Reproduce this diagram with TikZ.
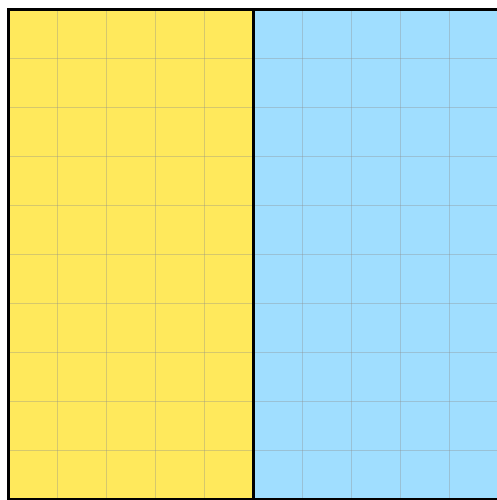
\documentclass[tikz,border=0pt]{standalone}
\begin{document}
\begin{tikzpicture}[x=1pt,y=1pt,
  gridline/.style={draw=black!45,opacity=0.35,line width=0.9pt},
  frame/.style={draw=black,line width=3pt}]
\useasboundingbox (0,0) rectangle (497,500);
\clip (0,0) rectangle (497,500);
\fill[white] (0,0) rectangle (497,500);
\fill[fill={rgb,255:red,255;green,233;blue,92}] (8,0.5) rectangle (253,490.5);
\fill[fill={rgb,255:red,160;green,222;blue,255}] (253,0.5) rectangle (498,490.5);
\foreach \i in {1,...,9} {
  \draw[gridline] ({8+49*\i},0.5) -- ({8+49*\i},490.5);
  \draw[gridline] (8,{0.5+49*\i}) -- (498,{0.5+49*\i});
}
\draw[frame] (8,0.5) rectangle (498,490.5);
\draw[frame] (253,0.5) -- (253,490.5);
\end{tikzpicture}
\end{document}
